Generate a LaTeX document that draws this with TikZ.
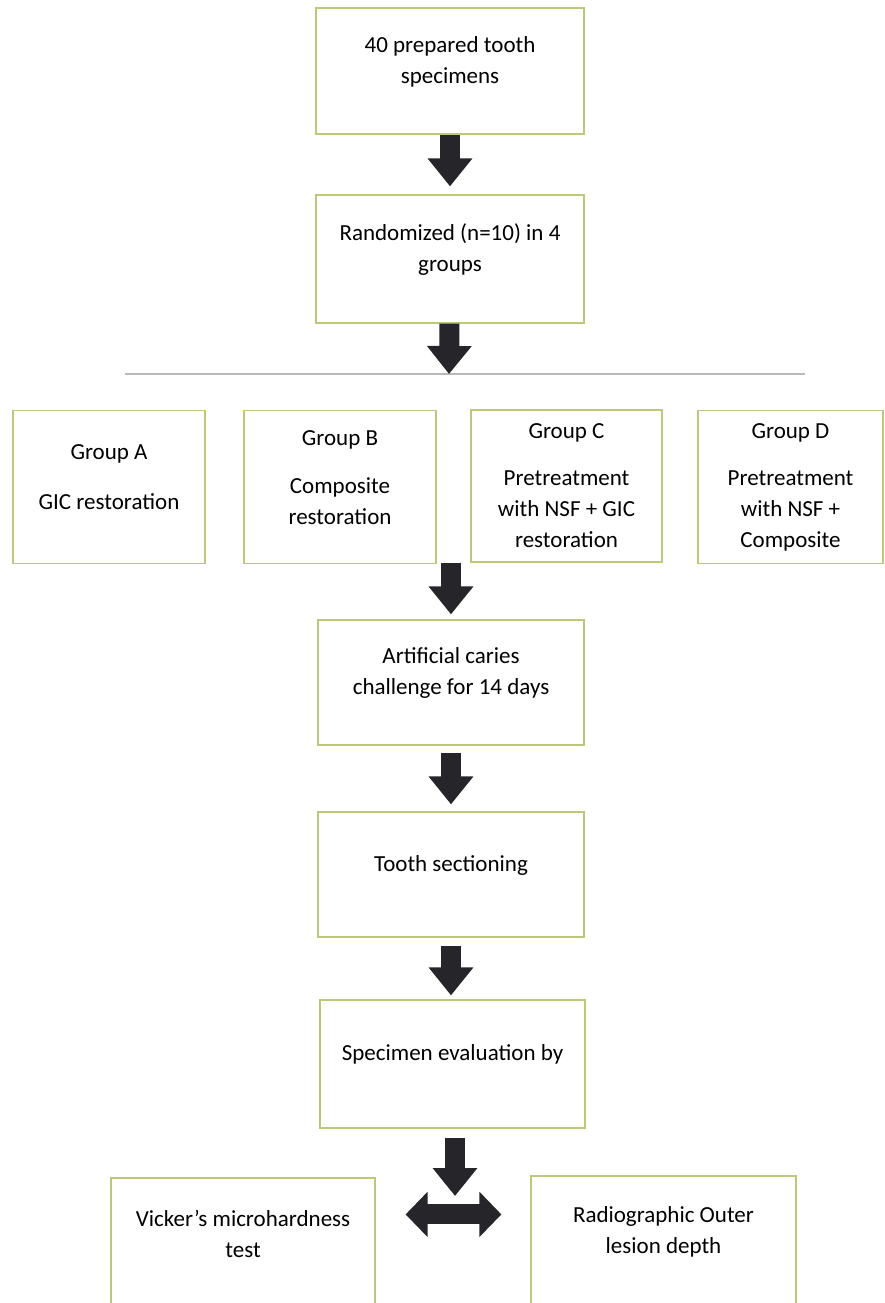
\documentclass[tikz,border=0pt]{standalone}
\usepackage{fontspec}
\setmainfont{Carlito}
\usetikzlibrary{arrows.meta}
\definecolor{boxline}{RGB}{190,200,120}
\definecolor{arrowdark}{RGB}{38,38,42}
\tikzset{stage/.style = {draw=boxline, line width=1.2pt, align=center, inner sep=0pt, font=\fontsize{23}{31}\selectfont}}
\tikzset{lift/.style = {execute at end node={\rule[-#1]{0pt}{#1}}}}
\tikzset{flow/.style = {arrowdark, line width=20pt, -{Triangle[width=43pt, length=28pt]}}}
\tikzset{twoway/.style = {arrowdark, line width=20pt, {Triangle[width=44pt, length=22pt]}-{Triangle[width=44pt, length=22pt]}}}

\begin{document}
\begin{tikzpicture}[x=1pt, y=-1pt]
  \useasboundingbox (0,0) rectangle (884,1303);

  \node [stage, lift=22pt, minimum width=268pt, minimum height=126pt] (prep) at (450,71) {40 prepared tooth\\specimens};
  \node [stage, lift=22pt, minimum width=268pt, minimum height=128pt] (rand) at (450,259) {Randomized (n=10) in 4\\groups};

  \coordinate (splitL) at (125,374);
  \coordinate (split) at (449,374);
  \coordinate (splitR) at (805,374);
  \draw [gray!55, line width=2pt] (splitL) -- (splitR);

  \node [stage, lift=20pt, minimum width=192pt, minimum height=153pt] (grpA) at (109,487) {Group A\\[19pt]GIC restoration};
  \node [stage, lift=19pt, minimum width=192pt, minimum height=153pt] (grpB) at (340,487) {Group B\\[17pt]Composite\\restoration};
  \node [stage, minimum width=191pt, minimum height=152pt] (grpC) at (566.5,486) {Group C\\[16pt]Pretreatment\\with NSF + GIC\\restoration};
  \node [stage, minimum width=185pt, minimum height=153pt] (grpD) at (790.5,487) {Group D\\[16pt]Pretreatment\\with NSF +\\Composite};

  \node [stage, lift=22pt, minimum width=266pt, minimum height=125pt] (caries) at (451,682.5) {Artificial caries\\challenge for 14 days};
  \node [stage, lift=21pt, minimum width=266pt, minimum height=125pt] (section) at (451,874.5) {Tooth sectioning};
  \node [stage, lift=22pt, minimum width=265pt, minimum height=128pt] (evaluate) at (452.5,1064) {Specimen evaluation by};

  \node [stage, lift=40pt, minimum width=264pt, minimum height=152pt] (vickers) at (243,1254) {Vicker's microhardness\\test};
  \node [stage, lift=47pt, minimum width=265pt, minimum height=154pt] (radio) at (663.5,1253) {Radiographic Outer\\lesion depth};

  % block arrows
  \draw [flow, shorten >=8pt] (prep) -- (rand);
  \draw [flow] (rand) -- (split);
  \draw [flow, shorten >=5pt] (caries.north |- grpC.south) -- (caries);
  \draw [flow, shorten <=7pt, shorten >=7pt] (caries) -- (section);
  \draw [flow, shorten <=8pt, shorten >=4pt] (section.south) -- (section.south |- evaluate.north);
  \coordinate (fork) at (455,1196);
  \draw [flow, shorten <=9pt] (evaluate.south -| fork) -- (fork);
  \draw [twoway, shorten <=30pt, shorten >=29pt] ([yshift=-37pt]vickers.north east) -- ([yshift=-37pt]vickers.north east -| radio.west);
\end{tikzpicture}
\end{document}
